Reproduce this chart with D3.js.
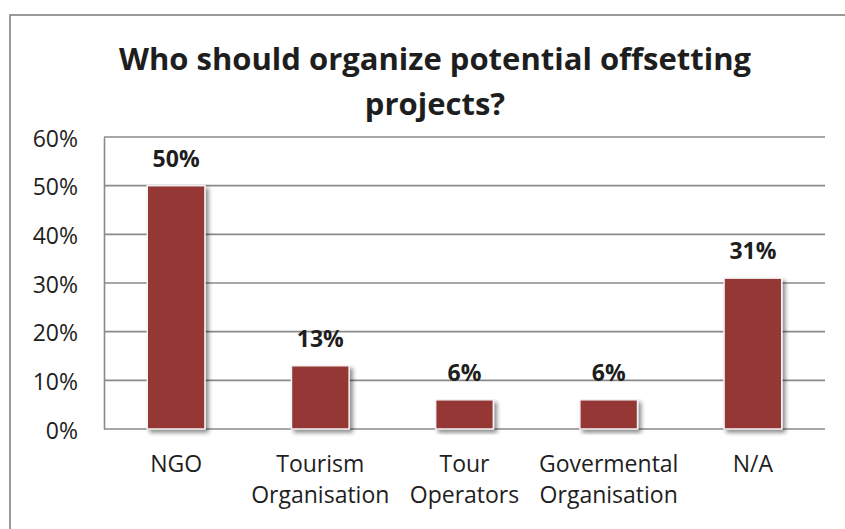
<!DOCTYPE html>
<html>
<head>
<meta charset="utf-8">
<script src="https://cdn.jsdelivr.net/npm/d3@7"></script>
<style>
  html, body { margin: 0; padding: 0; background: #ffffff; }
  svg { display: block; }
</style>
</head>
<body>
<svg id="chart" width="845" height="529"></svg>
<script>
// Survey answers: who should organize offsetting projects
const categories = ["NGO", "Tourism Organisation", "Tour Operators", "Govermental Organisation", "N/A"];
const categoryLines = [["NGO"], ["Tourism", "Organisation"], ["Tour", "Operators"], ["Govermental", "Organisation"], ["N/A"]];
const shares = [0.50, 0.13, 0.06, 0.06, 0.31];
const yTicks = [0, 0.1, 0.2, 0.3, 0.4, 0.5, 0.6];
const titleLines = ["Who should organize potential offsetting", "projects?"];

const W = 845, H = 529;
const plot = { left: 104, right: 825, top: 137, bottom: 429 };
const font = "'Open Sans', 'Noto Sans', sans-serif";
const barColor = "#953735";
const gridColor = "#8a8a8a";
const textColor = "#1e1e1e";

const svg = d3.select("#chart");

// Soft shadow beneath each bar
const defs = svg.append("defs");
const f = defs.append("filter").attr("id", "barShadow")
  .attr("x", "-20%").attr("y", "-10%").attr("width", "150%").attr("height", "130%");
f.append("feGaussianBlur").attr("in", "SourceAlpha").attr("stdDeviation", 2).attr("result", "blur");
f.append("feOffset").attr("in", "blur").attr("dx", 3).attr("dy", 3).attr("result", "off");
f.append("feComponentTransfer").attr("in", "off").attr("result", "shadow")
  .append("feFuncA").attr("type", "linear").attr("slope", 0.45);
const merge = f.append("feMerge");
merge.append("feMergeNode").attr("in", "shadow");
merge.append("feMergeNode").attr("in", "SourceGraphic");

// Outer chart frame
svg.append("rect")
  .attr("x", 10).attr("y", 15).attr("width", W + 20).attr("height", H + 20)
  .attr("fill", "none").attr("stroke", "#7a7a7a").attr("stroke-width", 1.5);

// Title
const title = svg.append("text")
  .attr("text-anchor", "middle")
  .attr("font-family", font).attr("font-weight", 700)
  .attr("font-size", 31).attr("fill", textColor);
title.selectAll("tspan").data(titleLines).join("tspan")
  .attr("x", 435)
  .attr("y", (d, i) => 70 + i * 45)
  .text(d => d);

const x = d3.scaleBand().domain(categories).range([plot.left, plot.right]).paddingInner(0.6).paddingOuter(0.3);
const y = d3.scaleLinear().domain([0, 0.6]).range([plot.bottom, plot.top]);

// Horizontal gridlines
svg.append("g").selectAll("line").data(yTicks).join("line")
  .attr("x1", plot.left).attr("x2", plot.right)
  .attr("y1", d => y(d)).attr("y2", d => y(d))
  .attr("stroke", gridColor).attr("stroke-width", 1.6);

// Value axis
const yAxis = svg.append("g")
  .attr("transform", `translate(${plot.left},0)`)
  .call(d3.axisLeft(y).tickValues(yTicks).tickFormat(d3.format(".0%")).tickSize(0).tickPadding(26));
yAxis.select(".domain").attr("stroke", gridColor).attr("stroke-width", 1.6);
yAxis.selectAll("text")
  .attr("font-family", font).attr("font-size", 23).attr("fill", textColor)
  .attr("dy", "0.4em");

// Bars
svg.append("g").selectAll("rect").data(categories).join("rect")
  .attr("x", d => x(d))
  .attr("width", x.bandwidth())
  .attr("y", (d, i) => y(shares[i]))
  .attr("height", (d, i) => y(0) - y(shares[i]))
  .attr("fill", barColor)
  .attr("stroke", "#f4f4f4").attr("stroke-width", 1.5)
  .attr("filter", "url(#barShadow)");

// Value labels above bars
svg.append("g").selectAll("text").data(categories).join("text")
  .attr("x", d => x(d) + x.bandwidth() / 2)
  .attr("y", (d, i) => y(shares[i]) - 19)
  .attr("text-anchor", "middle")
  .attr("font-family", font).attr("font-weight", 700)
  .attr("font-size", 23).attr("fill", textColor)
  .text((d, i) => d3.format(".0%")(shares[i]));

// Category labels
const cat = svg.append("g").selectAll("text").data(categories).join("text")
  .attr("text-anchor", "middle")
  .attr("font-family", font).attr("font-size", 23).attr("fill", textColor);
cat.selectAll("tspan").data((d, i) => categoryLines[i].map(t => ({ t, c: d }))).join("tspan")
  .attr("x", d => x(d.c) + x.bandwidth() / 2)
  .attr("y", (d, i) => 472 + i * 31)
  .text(d => d.t);
</script>
</body>
</html>
